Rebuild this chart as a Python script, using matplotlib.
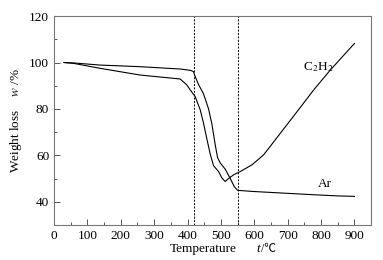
import numpy as np
import matplotlib.pyplot as plt
from matplotlib.ticker import MultipleLocator

plt.rcParams['font.family'] = ['Liberation Serif', 'Noto Sans CJK SC', 'DejaVu Serif']
plt.rcParams['mathtext.fontset'] = 'stix'

# Ar atmosphere
t_ar = [30, 60, 138, 258, 378, 410, 418, 423, 433, 448, 463, 473, 483, 490, 498, 513, 528, 540, 550, 598, 700, 778, 850, 900]
w_ar = [100.0, 99.8, 98.9, 98.2, 97.2, 96.6, 96.0, 93.9, 90.5, 86.5, 80.0, 73.5, 64.5, 59.0, 56.7, 54.0, 50.0, 46.5, 44.9, 44.4, 43.6, 43.0, 42.5, 42.3]

# C2H2 atmosphere
t_c2h2 = [30, 60, 138, 258, 378, 398, 408, 423, 438, 448, 458, 468, 478, 493, 503, 513, 523, 538, 558, 593, 628, 678, 728, 778, 828, 900]
w_c2h2 = [100.0, 99.6, 97.5, 94.6, 92.9, 90.3, 88.2, 85.3, 79.6, 73.8, 67.0, 60.5, 55.5, 53.0, 50.2, 48.7, 50.0, 51.6, 53.0, 55.9, 60.2, 69.5, 78.8, 88.2, 96.8, 108.2]

vlines = [420, 550]

fig = plt.figure(figsize=(3.83, 2.6), dpi=100)
ax = fig.add_axes([0.141, 0.135, 0.828, 0.803])

ax.plot(t_ar, w_ar, color='black', lw=0.8)
ax.plot(t_c2h2, w_c2h2, color='black', lw=0.8)
for v in vlines:
    ax.axvline(v, color='black', lw=0.7, ls=(0, (2, 1.5)))

ax.text(745, 98, r'C$_2$H$_2$', fontsize=9.5, ha='left', va='center')
ax.text(790, 47.5, 'Ar', fontsize=9.5, ha='left', va='center')

ax.set_xlim(0, 950)
ax.set_ylim(30, 120)
ax.xaxis.set_major_locator(MultipleLocator(100))
ax.xaxis.set_minor_locator(MultipleLocator(50))
ax.yaxis.set_minor_locator(MultipleLocator(10))
ax.set_yticks([40, 60, 80, 100, 120])
ax.tick_params(which='both', direction='in', top=False, right=False, labelsize=9.5, color='#555555')
ax.tick_params(which='major', length=4, width=0.7)
ax.tick_params(which='minor', length=2, width=0.7)
for s in ax.spines.values():
    s.set_color('#777777')
    s.set_linewidth(0.8)

# x label in pieces so the ℃ sign can fall back to a CJK font
ylab = 1 - 249 / 260
fig.text(170 / 383, ylab, 'Temperature', fontsize=9.5, ha='left', va='center')
fig.text(256 / 383, ylab, 't', fontsize=9.5, style='italic', ha='left', va='center')
fig.text(261 / 383, ylab, '/℃', fontsize=8.5, ha='left', va='center')
ax.set_ylabel('Weight loss    $w$ /%', fontsize=9.5, labelpad=4)

fig.savefig('out.png', dpi=100)
